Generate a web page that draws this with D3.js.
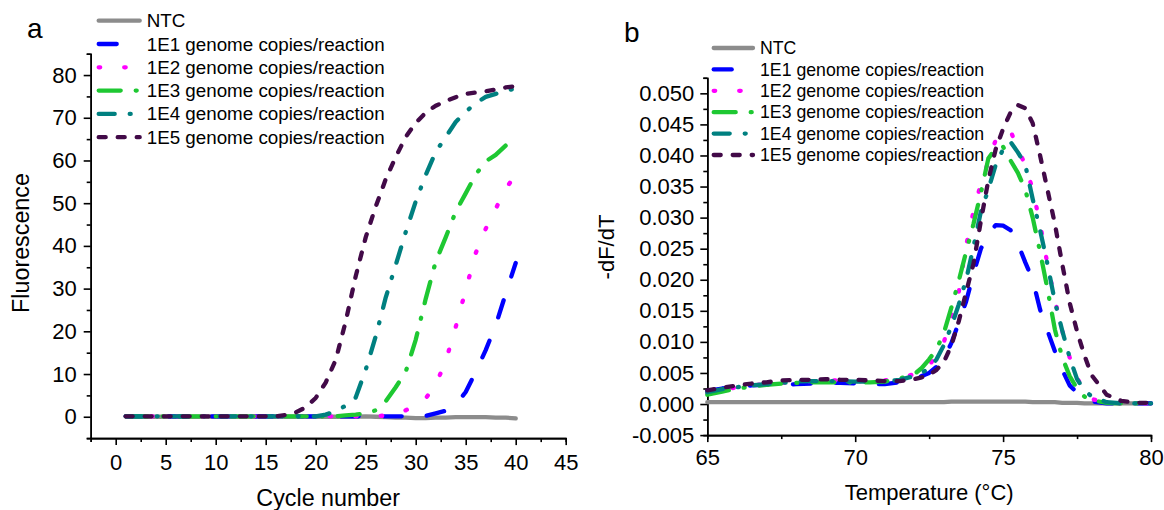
<!DOCTYPE html>
<html lang='en'>
<head>
<meta charset='UTF-8'>
<title>Amplification and melt curves</title>
<script src='https://d3js.org/d3.v7.min.js'></script>
<style>
  body { margin: 0; background: #fff; }
  svg { display: block; font-family: 'Liberation Sans', Arial, sans-serif; }
  .axis path, .axis line { stroke: #000; stroke-width: 1.6; }
  .axis text { font-size: 22px; fill: #000; font-family: 'Liberation Sans', Arial, sans-serif; }
</style>
</head>
<body>
<svg width='1164' height='510'></svg>
<script>
// series shared by both panels
const seriesNames = ['NTC', '1E1 genome copies/reaction', '1E2 genome copies/reaction',
  '1E3 genome copies/reaction', '1E4 genome copies/reaction', '1E5 genome copies/reaction']
const seriesColors = ['#8c8c8c', '#0000ff', '#ff00ff', '#1ec832', '#008080', '#420a48']
const seriesDashes = ['none', '18,25', '1.5,24', '22,15,1,15', '16,15,1,15', '7,12']

// panel a: fluorescence per cycle
const cycles = [1,2,3,4,5,6,7,8,9,10,11,12,13,14,15,16,17,18,19,20,
  21,22,23,24,25,26,27,28,29,30,31,32,33,34,35,36,37,38,39,40]
const fluorNTC = [0,0,0,0,0,0,0,0,0,0,0,0,0,0,0,0,0,0,0,0,
  0,0,0,0,0.1,0,-0.1,-0.2,-0.2,-0.3,-0.3,-0.2,-0.2,-0.1,-0.1,-0.1,-0.1,-0.2,-0.2,-0.4]
const fluor1E1 = [0.1,0.1,0.1,0.1,0.1,0.1,0.1,0.1,0.1,0.1,0.1,0.1,0.1,0.1,0.1,0.1,0.1,0.1,0.1,0.1,
  0.1,0.1,0.1,0.1,0.1,0.1,0.1,0.1,0.1,0.1,0.2,0.8,1.4,2.8,5.8,10.5,15.6,21.4,28.8,36.0]
const fluor1E2 = [0.1,0.1,0.1,0.1,0.1,0.1,0.1,0.1,0.1,0.1,0.1,0.1,0.1,0.1,0.1,0.1,0.1,0.1,0.1,0.1,
  0.1,0.1,0.1,0.1,0.1,0.1,0.3,0.8,1.5,2.8,4.3,7.5,13.0,21.0,29.7,38.3,44.0,48.7,53.3,56.8]
const fluor1E3 = [0.1,0.1,0.1,0.1,0.1,0.1,0.1,0.1,0.1,0.1,0.1,0.1,0.1,0.1,0.1,0.1,0.1,0.1,0.1,0.1,
  0.1,0.1,0.3,0.5,0.8,1.5,3.6,6.9,10.5,18.0,27.6,36.3,42.0,48.0,52.3,56.7,59.8,61.3,63.5,65.6]
const fluor1E4 = [0.1,0.1,0.1,0.1,0.1,0.1,0.1,0.1,0.1,0.1,0.1,0.1,0.1,0.1,0.1,0.1,0.1,0.1,0.1,0.1,
  0.5,1.3,2.6,4.5,11.0,18.8,27.9,35.5,43.2,50.4,56.6,62.0,65.5,69.0,71.4,73.4,74.9,75.6,76.3,76.9]
const fluor1E5 = [0.1,0.1,0.1,0.1,0.1,0.1,0.1,0.1,0.1,0.1,0.1,0.1,0.1,0.1,0.1,0.1,0.4,1.0,2.2,4.4,
  8.0,13.3,22.3,32.9,42.0,49.2,55.6,60.8,65.5,68.8,71.2,72.8,73.9,74.8,75.6,75.9,76.2,76.6,77.1,77.4]

// panel b: melt curve derivative
const meltTemps = [65,65.5,66,66.5,67,67.5,68,68.5,69,69.5,70,70.5,71,71.5,72,
  72.25,72.5,72.75,73,73.25,73.5,73.75,74,74.25,74.5,74.75,75,75.25,75.5,75.75,
  76,76.25,76.5,76.75,77,77.25,77.5,77.75,78,78.5,79,79.5,80]
const meltNTC = [.0003,.0003,.0003,.0003,.0003,.0003,.0003,.0003,.0003,.0003,.0003,.0003,.0003,.0003,.0003,
  .0003,.0003,.0003,.0003,.0004,.0004,.0004,.0004,.0004,.0004,.0004,.0004,.0004,.0004,.0004,
  .0003,.0003,.0003,.0003,.0002,.0002,.0002,.0001,.0001,.0001,.0001,.0001,.0001]
const melt1E1 = [.0021,.0025,.0028,.0030,.0031,.0031,.0032,.0033,.0034,.0034,.0033,.0032,.0032,.0035,.0040,
  .0045,.0050,.0060,.0074,.0098,.0131,.0165,.0210,.0250,.0273,.0288,.0287,.0280,.0258,.0228,
  .0200,.0152,.0118,.0085,.0055,.0030,.0018,.0010,.0004,.0001,.0001,.0001,.0001]
const melt1E2 = [.0018,.0023,.0027,.0030,.0032,.0034,.0036,.0037,.0038,.0038,.0037,.0037,.0038,.0042,.0048,
  .0054,.0063,.0077,.0100,.0140,.0180,.0255,.0310,.0355,.0390,.0425,.0435,.0440,.0410,.0385,
  .0345,.0290,.0225,.0168,.0118,.0075,.0042,.0022,.0008,.0002,.0001,.0001,.0001]
const melt1E3 = [.0015,.0020,.0025,.0028,.0031,.0033,.0034,.0035,.0035,.0035,.0035,.0035,.0036,.0041,.0048,
  .0058,.0072,.0088,.0115,.0155,.0198,.0245,.0290,.0340,.0395,.0412,.0414,.0392,.0372,.0345,
  .0300,.0245,.0185,.0120,.0075,.0045,.0025,.0012,.0006,.0002,.0001,.0001,.0001]
const melt1E4 = [.0019,.0024,.0027,.0030,.0032,.0034,.0036,.0037,.0037,.0037,.0036,.0036,.0036,.0039,.0045,
  .0050,.0058,.0072,.0095,.0125,.0160,.0200,.0253,.0310,.0345,.0385,.0410,.0422,.0405,.0385,
  .0330,.0280,.0225,.0165,.0118,.0075,.0040,.0022,.0012,.0003,.0001,.0001,.0001]
const melt1E5 = [.0022,.0026,.0030,.0033,.0035,.0038,.0039,.0039,.0040,.0039,.0039,.0038,.0037,.0037,.0040,
  .0043,.0047,.0055,.0068,.0094,.0133,.0180,.0226,.0295,.0360,.0410,.0443,.0469,.0481,.0476,
  .0452,.0400,.0345,.0290,.0225,.0163,.0117,.0078,.0046,.0015,.0005,.0002,.0002]

const svg = d3.select('svg')

function drawPanel(p) {
  let x = d3.scaleLinear().domain(p.xDomain).range(p.xRange)
  let y = d3.scaleLinear().domain(p.yDomain).range(p.yRange)
  let g = svg.append('g')

  // minor ticks first, majors on top
  g.append('g').attr('class', 'axis')
    .attr('transform', `translate(0,${y(p.yDomain[0])})`)
    .call(d3.axisBottom(x).tickValues(p.xMinor).tickSize(4).tickFormat(''))
  g.append('g').attr('class', 'axis')
    .attr('transform', `translate(0,${y(p.yDomain[0])})`)
    .call(d3.axisBottom(x).tickValues(p.xMajor).tickSize(7).tickSizeOuter(0).tickPadding(p.xPad))
  g.append('g').attr('class', 'axis')
    .attr('transform', `translate(${x(p.xDomain[0])},0)`)
    .call(d3.axisLeft(y).tickValues(p.yMinor).tickSize(4).tickFormat(''))
  g.append('g').attr('class', 'axis')
    .attr('transform', `translate(${x(p.xDomain[0])},0)`)
    .call(d3.axisLeft(y).tickValues(p.yMajor).tickSize(7).tickSizeOuter(0).tickPadding(p.yPad)
      .tickFormat(p.yFormat))

  let line = d3.line().x(d => x(d[0])).y(d => y(d[1]))
  p.series.forEach((vals, i) => {
    g.append('path')
      .datum(p.xs.map((v, j) => [v, vals[j]]))
      .attr('d', line)
      .attr('fill', 'none')
      .attr('stroke', seriesColors[i])
      .attr('stroke-width', 4.3)
      .attr('stroke-linecap', 'round')
      .attr('stroke-linejoin', 'round')
      .attr('stroke-dasharray', seriesDashes[i])
  })

  // legend
  let lg = g.append('g').selectAll('g').data(seriesNames).enter().append('g')
    .attr('transform', (d, i) => `translate(0,${p.legY + i * p.legStep})`)
  lg.append('line')
    .attr('x1', p.legX1 + 2).attr('x2', p.legX2 - 2)
    .attr('stroke', (d, i) => seriesColors[i])
    .attr('stroke-width', 4.3)
    .attr('stroke-linecap', 'round')
    .attr('stroke-dasharray', (d, i) => seriesDashes[i])
  lg.append('text')
    .attr('x', p.legX2 + 5)
    .attr('dy', '0.35em')
    .style('font-size', p.legFont + 'px')
    .text(d => d)

  // titles
  g.append('text')
    .attr('x', (p.xRange[0] + p.xRange[1]) / 2).attr('y', p.xTitleY)
    .attr('text-anchor', 'middle').style('font-size', p.titleFont + 'px')
    .text(p.xTitle)
  g.append('text')
    .attr('transform', `translate(${p.yTitleX},${p.yTitleY}) rotate(-90)`)
    .attr('text-anchor', 'middle').style('font-size', p.titleFont + 'px')
    .text(p.yTitle)
  g.append('text')
    .attr('x', p.tagX).attr('y', p.tagY)
    .style('font-size', '28px')
    .text(p.tag)
}

drawPanel({
  tag: 'a', tagX: 27, tagY: 38,
  xs: cycles,
  series: [fluorNTC, fluor1E1, fluor1E2, fluor1E3, fluor1E4, fluor1E5],
  xDomain: [-2.5, 45], xRange: [90.7, 565.7],
  yDomain: [-5, 85], yRange: [438.1, 53.7],
  xMajor: [0, 5, 10, 15, 20, 25, 30, 35, 40, 45],
  xMinor: [-2.5, 2.5, 7.5, 12.5, 17.5, 22.5, 27.5, 32.5, 37.5, 42.5],
  yMajor: [0, 10, 20, 30, 40, 50, 60, 70, 80],
  yMinor: [-5, 5, 15, 25, 35, 45, 55, 65, 75, 85],
  yFormat: d3.format('d'), xPad: 9, yPad: 7,
  xTitle: 'Cycle number', xTitleY: 506, titleFont: 23.3,
  yTitle: 'Fluorescence', yTitleX: 29, yTitleY: 243,
  legX1: 96.7, legX2: 141.7, legY: 20.7, legStep: 23.3, legFont: 18.8
})

drawPanel({
  tag: 'b', tagX: 624, tagY: 42,
  xs: meltTemps,
  series: [meltNTC, melt1E1, melt1E2, melt1E3, melt1E4, melt1E5],
  xDomain: [65, 80], xRange: [707.3, 1151],
  yDomain: [-0.005, 0.0525], yRange: [435.1, 77.8],
  xMajor: [65, 70, 75, 80],
  xMinor: [67.5, 72.5, 77.5],
  yMajor: [-0.005, 0, 0.005, 0.01, 0.015, 0.02, 0.025, 0.03, 0.035, 0.04, 0.045, 0.05],
  yMinor: [-0.0025, 0.0025, 0.0075, 0.0125, 0.0175, 0.0225, 0.0275, 0.0325, 0.0375, 0.0425, 0.0475, 0.0525],
  yFormat: d => d3.format('.3f')(d).replace('\u2212', '-'), xPad: 7, yPad: 6,
  xTitle: 'Temperature (\u00b0C)', xTitleY: 500, titleFont: 22,
  yTitle: '-dF/dT', yTitleX: 614, yTitleY: 247,
  legX1: 711.7, legX2: 755, legY: 48, legStep: 21.4, legFont: 17.7
})
</script>
</body>
</html>
